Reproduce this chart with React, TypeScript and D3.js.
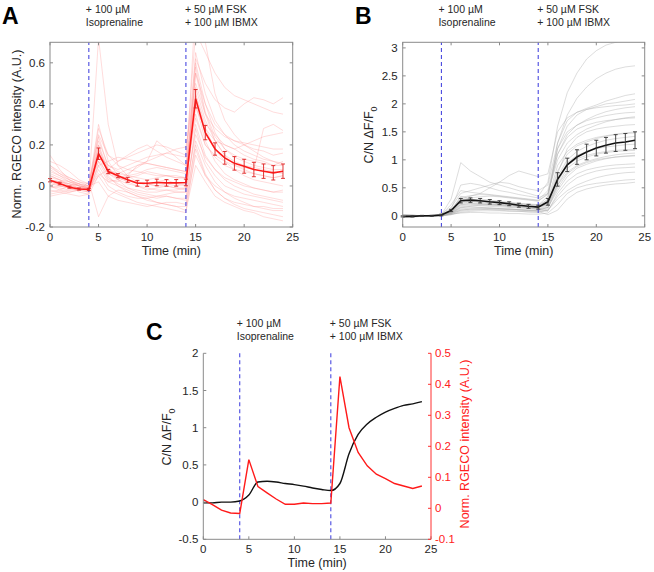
import React from "react";
import * as d3 from "d3";

const TIME = [0, 1, 2, 3, 4, 5, 6, 7, 8, 9, 10, 11, 12, 13, 14, 15, 16, 17, 18, 19, 20, 21, 22, 23, 24];
const RGECO_MEAN = [0.028, 0.012, -0.006, -0.015, -0.017, 0.157, 0.07, 0.05, 0.03, 0.013, 0.013, 0.017, 0.015, 0.015, 0.017, 0.425, 0.26, 0.18, 0.137, 0.11, 0.096, 0.08, 0.072, 0.064, 0.072];
const RGECO_SEM = [0.008, 0.006, 0.005, 0.005, 0.005, 0.028, 0.01, 0.01, 0.012, 0.014, 0.015, 0.016, 0.016, 0.016, 0.016, 0.045, 0.035, 0.03, 0.031, 0.033, 0.034, 0.035, 0.035, 0.035, 0.035];
const CN_MEAN = [-0.01, -0.01, 0.0, 0.0, 0.015, 0.095, 0.27, 0.28, 0.27, 0.25, 0.235, 0.215, 0.19, 0.17, 0.155, 0.25, 0.65, 0.91, 1.05, 1.14, 1.21, 1.26, 1.3, 1.32, 1.35];
const CN_SEM = [0.01, 0.01, 0.008, 0.008, 0.015, 0.02, 0.04, 0.04, 0.04, 0.04, 0.035, 0.035, 0.035, 0.035, 0.035, 0.06, 0.12, 0.12, 0.13, 0.14, 0.14, 0.14, 0.15, 0.15, 0.15];

const RGECO_TRACES = [
  [0.10, 0.06, 0.03, 0.01, 0.00, 0.25, 0.15, 0.12, 0.14, 0.16, 0.18, 0.20, 0.19, 0.17, 0.15, 0.62, 0.50, 0.42, 0.38, 0.36, 0.40, 0.43, 0.42, 0.40, 0.43],
  [0.02, 0.00, -0.01, -0.02, -0.03, 0.10, 0.02, 0.00, -0.02, -0.04, -0.05, -0.06, -0.05, -0.06, -0.07, 0.30, 0.15, 0.08, 0.03, 0.00, -0.02, -0.04, -0.05, -0.06, -0.07],
  [0.15, 0.08, 0.03, 0.00, -0.01, 0.72, 0.30, 0.10, 0.05, 0.02, 0.00, 0.02, 0.03, 0.01, 0.00, 0.55, 0.35, 0.22, 0.15, 0.10, 0.08, 0.06, 0.05, 0.04, 0.05],
  [-0.03, -0.02, 0.00, 0.01, -0.02, 0.05, 0.08, 0.12, 0.15, 0.18, 0.20, 0.17, 0.14, 0.12, 0.10, 0.45, 0.30, 0.25, 0.20, 0.18, 0.15, 0.13, 0.12, 0.10, 0.12],
  [0.05, 0.03, 0.00, -0.03, -0.04, 0.20, 0.05, 0.00, -0.03, -0.05, -0.07, -0.08, -0.09, -0.10, -0.10, 0.22, 0.10, 0.02, -0.03, -0.06, -0.08, -0.10, -0.11, -0.12, -0.12],
  [0.00, -0.01, -0.02, -0.02, -0.01, 0.15, 0.10, 0.08, 0.10, 0.12, 0.14, 0.15, 0.16, 0.15, 0.14, 0.75, 0.65, 0.55, 0.48, 0.44, 0.42, 0.40, 0.38, 0.36, 0.35],
  [0.08, 0.05, 0.02, 0.00, -0.01, 0.18, 0.06, 0.03, 0.01, 0.00, -0.02, -0.01, 0.00, -0.01, -0.02, 0.40, 0.22, 0.12, 0.06, 0.03, 0.01, -0.01, -0.02, -0.03, -0.02],
  [-0.05, -0.04, -0.03, -0.02, 0.02, -0.15, -0.05, -0.02, -0.03, -0.05, -0.06, -0.08, -0.09, -0.10, -0.12, 0.10, 0.02, -0.05, -0.08, -0.10, -0.12, -0.13, -0.15, -0.16, -0.17],
  [0.03, 0.02, 0.01, 0.00, -0.01, 0.28, 0.15, 0.10, 0.08, 0.07, 0.06, 0.05, 0.05, 0.04, 0.04, 0.55, 0.40, 0.30, 0.25, 0.22, 0.20, 0.18, 0.17, 0.15, 0.16],
  [0.12, 0.10, 0.07, 0.03, 0.01, 0.12, 0.03, 0.02, 0.05, 0.10, 0.12, 0.22, 0.18, 0.14, 0.10, 0.35, 0.20, 0.15, 0.12, 0.10, 0.09, 0.08, 0.28, 0.30, 0.27],
  [0.00, 0.02, 0.01, -0.01, -0.03, 0.08, 0.00, -0.03, -0.05, -0.06, -0.06, -0.05, -0.04, -0.03, -0.03, 0.28, 0.12, 0.05, 0.00, -0.02, -0.04, -0.05, -0.06, -0.07, -0.08],
  [0.06, 0.04, 0.02, 0.00, 0.00, 0.22, 0.10, 0.07, 0.05, 0.04, 0.03, 0.04, 0.05, 0.04, 0.04, 0.90, 0.70, 0.45, 0.32, 0.25, 0.20, 0.17, 0.14, 0.12, 0.10],
  [-0.02, -0.03, -0.04, -0.05, -0.04, 0.05, -0.02, -0.04, -0.06, -0.08, -0.09, -0.10, -0.11, -0.12, -0.13, 0.18, 0.05, -0.02, -0.06, -0.09, -0.11, -0.12, -0.13, -0.14, -0.15],
  [0.04, 0.03, 0.02, 0.01, -0.01, 0.16, 0.08, 0.06, 0.05, 0.06, 0.08, 0.09, 0.08, 0.07, 0.06, 0.48, 0.32, 0.22, 0.15, 0.12, 0.10, 0.09, 0.08, 0.07, 0.06],
  [0.10, 0.07, 0.04, 0.02, 0.00, 0.30, 0.12, 0.05, 0.02, 0.00, -0.01, -0.02, -0.02, -0.03, -0.03, 0.60, 0.40, 0.26, 0.18, 0.14, 0.12, 0.10, 0.09, 0.08, 0.08],
  [-0.01, 0.00, 0.00, -0.01, -0.02, 0.10, 0.12, 0.14, 0.13, 0.12, 0.11, 0.10, 0.09, 0.08, 0.07, 0.38, 0.28, 0.22, 0.20, 0.18, 0.20, 0.22, 0.24, 0.25, 0.26],
  [0.02, 0.01, 0.00, -0.01, -0.02, 0.14, 0.04, 0.01, -0.01, -0.02, -0.03, -0.03, -0.02, -0.02, -0.01, 0.25, 0.14, 0.08, 0.04, 0.02, 0.00, -0.01, -0.02, -0.03, -0.03],
  [0.07, 0.05, 0.03, 0.01, 0.00, 0.20, 0.08, 0.04, 0.02, 0.02, 0.01, 0.00, 0.01, 0.00, 0.01, 0.65, 0.45, 0.32, 0.25, 0.20, 0.17, 0.15, 0.13, 0.12, 0.11],
  [0.00, -0.02, -0.03, -0.02, -0.01, 0.06, 0.02, 0.03, 0.06, 0.09, 0.12, 0.14, 0.16, 0.18, 0.19, 0.50, 0.35, 0.28, 0.24, 0.22, 0.21, 0.20, 0.19, 0.18, 0.18],
  [0.09, 0.06, 0.04, 0.02, 0.01, 0.24, 0.09, 0.03, -0.01, -0.03, -0.04, -0.05, -0.05, -0.06, -0.06, 0.20, 0.06, -0.02, -0.06, -0.08, -0.09, -0.10, -0.10, -0.11, -0.11],
  [0.01, 0.00, -0.01, -0.02, -0.03, 0.12, 0.06, 0.04, 0.03, 0.02, 0.01, 0.00, 0.00, -0.01, -0.01, 0.44, 0.28, 0.18, 0.12, 0.08, 0.05, 0.03, 0.02, 0.01, 0.00],
  [0.05, 0.03, 0.01, 0.00, -0.02, 0.18, 0.08, 0.05, 0.04, 0.05, 0.07, 0.06, 0.05, 0.05, 0.04, 0.33, 0.20, 0.14, 0.10, 0.08, 0.07, 0.06, 0.05, 0.04, 0.05],
  [-0.04, -0.03, -0.02, -0.01, 0.00, 0.02, -0.05, -0.07, -0.08, -0.09, -0.10, -0.09, -0.08, -0.08, -0.09, 0.15, 0.05, 0.00, -0.03, -0.05, -0.06, -0.07, -0.08, -0.09, -0.10],
  [0.03, 0.02, 0.00, -0.01, -0.01, 0.16, 0.07, 0.06, 0.08, 0.10, 0.11, 0.10, 0.09, 0.08, 0.07, 0.58, 0.36, 0.24, 0.18, 0.15, 0.13, 0.12, 0.11, 0.10, 0.10],
];

const CN_TRACES = [
  [0.00, 0.00, 0.00, 0.01, 0.02, 0.20, 0.45, 0.42, 0.40, 0.38, 0.36, 0.34, 0.32, 0.30, 0.28, 0.45, 1.20, 1.60, 1.80, 1.90, 1.95, 2.00, 2.02, 2.05, 2.08],
  [-0.02, -0.01, 0.00, 0.00, 0.01, 0.05, 0.15, 0.16, 0.15, 0.14, 0.13, 0.12, 0.11, 0.10, 0.10, 0.15, 0.45, 0.70, 0.85, 0.92, 0.98, 1.02, 1.05, 1.07, 1.08],
  [0.01, 0.00, 0.00, 0.00, 0.02, 0.30, 0.95, 0.80, 0.70, 0.60, 0.55, 0.50, 0.45, 0.40, 0.35, 0.60, 1.60, 2.20, 2.55, 2.80, 2.95, 3.05, 3.10, 3.15, 3.20],
  [0.00, -0.01, 0.00, 0.00, 0.00, 0.08, 0.25, 0.28, 0.30, 0.28, 0.26, 0.24, 0.22, 0.20, 0.18, 0.25, 0.80, 1.10, 1.25, 1.32, 1.38, 1.42, 1.45, 1.47, 1.48],
  [-0.03, -0.02, -0.01, 0.00, 0.00, 0.04, 0.10, 0.12, 0.12, 0.11, 0.10, 0.09, 0.08, 0.07, 0.06, 0.10, 0.30, 0.45, 0.55, 0.62, 0.68, 0.72, 0.75, 0.77, 0.78],
  [0.02, 0.01, 0.00, 0.01, 0.03, 0.15, 0.40, 0.45, 0.50, 0.55, 0.60, 0.58, 0.52, 0.48, 0.45, 0.55, 1.30, 1.70, 1.85, 1.92, 1.98, 2.05, 2.10, 2.15, 2.18],
  [0.00, 0.00, 0.00, 0.00, 0.01, 0.06, 0.20, 0.22, 0.20, 0.19, 0.18, 0.16, 0.15, 0.14, 0.12, 0.18, 0.65, 0.95, 1.08, 1.15, 1.20, 1.23, 1.25, 1.27, 1.28],
  [-0.01, 0.00, 0.00, 0.00, 0.00, 0.03, 0.05, 0.06, 0.06, 0.05, 0.05, 0.04, 0.04, 0.03, 0.03, 0.05, 0.20, 0.40, 0.50, 0.55, 0.58, 0.60, 0.62, 0.64, 0.65],
  [0.01, 0.01, 0.00, 0.00, 0.02, 0.10, 0.30, 0.35, 0.40, 0.50, 0.60, 0.72, 0.80, 0.75, 0.70, 0.75, 1.50, 1.75, 1.85, 1.90, 1.93, 1.95, 1.97, 1.98, 2.00],
  [0.00, 0.00, 0.00, 0.00, 0.00, 0.05, 0.18, 0.20, 0.21, 0.20, 0.19, 0.18, 0.17, 0.15, 0.14, 0.20, 0.75, 1.20, 1.40, 1.50, 1.55, 1.58, 1.60, 1.62, 1.63],
  [-0.02, -0.02, -0.01, 0.00, 0.01, 0.07, 0.22, 0.25, 0.24, 0.22, 0.20, 0.18, 0.16, 0.14, 0.12, 0.15, 0.50, 0.75, 0.88, 0.95, 1.00, 1.03, 1.05, 1.06, 1.07],
  [0.00, 0.00, 0.00, 0.00, 0.01, 0.12, 0.55, 0.58, 0.55, 0.50, 0.45, 0.42, 0.38, 0.35, 0.32, 0.40, 1.10, 1.40, 1.55, 1.62, 1.67, 1.70, 1.72, 1.74, 1.75],
  [0.02, 0.01, 0.00, 0.00, 0.00, 0.02, 0.08, 0.10, 0.11, 0.12, 0.12, 0.11, 0.10, 0.09, 0.08, 0.02, 0.10, 0.30, 0.42, 0.48, 0.52, 0.55, 0.57, 0.58, 0.60],
  [0.00, 0.00, 0.00, 0.00, 0.02, 0.09, 0.28, 0.32, 0.34, 0.35, 0.34, 0.32, 0.30, 0.28, 0.26, 0.40, 1.00, 1.30, 1.45, 1.55, 1.62, 1.68, 1.72, 1.75, 1.77],
  [-0.01, -0.01, 0.00, 0.00, 0.01, 0.04, 0.12, 0.14, 0.15, 0.14, 0.13, 0.12, 0.11, 0.10, 0.09, 0.12, 0.55, 0.85, 0.98, 1.05, 1.10, 1.13, 1.15, 1.16, 1.17],
  [0.00, 0.00, 0.00, 0.00, 0.00, 0.10, 0.30, 0.28, 0.26, 0.24, 0.22, 0.20, 0.18, 0.17, 0.16, 0.30, 1.30, 1.80, 2.10, 2.30, 2.45, 2.55, 2.62, 2.66, 2.68],
  [0.01, 0.00, 0.00, 0.00, 0.01, 0.05, 0.16, 0.18, 0.18, 0.17, 0.16, 0.15, 0.14, 0.13, 0.12, 0.08, 0.40, 0.62, 0.75, 0.82, 0.86, 0.89, 0.91, 0.92, 0.93],
  [0.00, 0.00, 0.00, 0.01, 0.02, 0.08, 0.35, 0.30, 0.27, 0.25, 0.24, 0.23, 0.22, 0.21, 0.20, 0.28, 0.90, 1.15, 1.28, 1.35, 1.40, 1.43, 1.46, 1.48, 1.50],
  [-0.02, -0.01, 0.00, 0.00, 0.00, 0.03, 0.10, 0.12, 0.13, 0.13, 0.12, 0.12, 0.11, 0.10, 0.10, 0.15, 0.60, 0.90, 1.02, 1.08, 1.12, 1.15, 1.17, 1.18, 1.19],
  [0.00, 0.00, 0.00, 0.00, 0.01, 0.06, 0.24, 0.26, 0.25, 0.24, 0.23, 0.22, 0.21, 0.20, 0.19, 0.35, 1.20, 1.50, 1.62, 1.70, 1.75, 1.79, 1.82, 1.84, 1.85],
  [0.01, 0.01, 0.00, 0.00, 0.00, 0.04, 0.14, 0.17, 0.19, 0.20, 0.20, 0.19, 0.18, 0.17, 0.16, 0.20, 0.55, 0.78, 0.90, 0.97, 1.02, 1.06, 1.09, 1.11, 1.12],
  [0.00, 0.00, 0.00, 0.00, 0.01, 0.07, 0.20, 0.22, 0.22, 0.21, 0.20, 0.19, 0.18, 0.17, 0.16, 0.22, 0.70, 1.00, 1.15, 1.24, 1.30, 1.35, 1.38, 1.40, 1.42],
  [-0.01, 0.00, 0.00, 0.00, 0.00, 0.02, 0.06, 0.08, 0.09, 0.09, 0.09, 0.08, 0.08, 0.07, 0.07, 0.10, 0.35, 0.55, 0.68, 0.75, 0.80, 0.83, 0.85, 0.86, 0.87],
  [0.00, 0.00, 0.00, 0.00, 0.02, 0.11, 0.33, 0.36, 0.38, 0.37, 0.35, 0.33, 0.31, 0.29, 0.27, 0.38, 1.10, 1.45, 1.62, 1.72, 1.80, 1.86, 1.90, 1.93, 1.95],
];

const X_TICKS = [0, 5, 10, 15, 20, 25];
const A_Y_TICKS = [-0.2, 0, 0.2, 0.4, 0.6];
const B_Y_TICKS = [0, 0.5, 1, 1.5, 2, 2.5, 3];
const C_LEFT_TICKS = [-0.5, 0, 0.5, 1, 1.5, 2];
const C_RIGHT_TICKS = [-0.1, 0, 0.1, 0.2, 0.3, 0.4, 0.5];
const DRUG_TIMES = [4, 14];
const ANNOT_ISO = ["+ 100 µM", "Isoprenaline"];
const ANNOT_FSK = ["+ 50 µM FSK", "+ 100 µM IBMX"];

const FONT = "'Liberation Sans', Arial, sans-serif";
const TXT = "#262626";
const AX = "#8a8a8a";
const DASH = "#4a4ae0";
const TL = 3;

type Sc = d3.ScaleLinear<number, number>;

function Frame({ xs, ys, yTicks, box, id }: { xs: Sc; ys: Sc; yTicks: number[]; box: boolean; id: string }) {
  const [x0, x1] = xs.range();
  const [y0, y1] = ys.range();
  return (
    <g>
      {box && <rect x={x0} y={y1} width={x1 - x0} height={y0 - y1} fill="none" stroke={AX} strokeWidth={1} />}
      {X_TICKS.map((t) => (
        <g key={"xt" + id + t}>
          <line x1={xs(t)} x2={xs(t)} y1={y0} y2={y0 - TL} stroke={AX} />
          {box && <line x1={xs(t)} x2={xs(t)} y1={y1} y2={y1 + TL} stroke={AX} />}
          <text x={xs(t)} y={y0 + 14} textAnchor="middle" fontSize={11.5} fill={TXT}>{String(t)}</text>
        </g>
      ))}
      {yTicks.map((t) => (
        <g key={"yt" + id + t}>
          <line x1={x0} x2={x0 + TL} y1={ys(t)} y2={ys(t)} stroke={AX} />
          {box && <line x1={x1} x2={x1 - TL} y1={ys(t)} y2={ys(t)} stroke={AX} />}
          <text x={x0 - 5} y={ys(t) + 4} textAnchor="end" fontSize={11.5} fill={TXT}>{String(t)}</text>
        </g>
      ))}
      <text x={(x0 + x1) / 2} y={y0 + 28} textAnchor="middle" fontSize={12.5} fill={TXT}>Time (min)</text>
    </g>
  );
}

function Dashes({ xs, ys }: { xs: Sc; ys: Sc }) {
  const [y0, y1] = ys.range();
  return (
    <g>
      {DRUG_TIMES.map((t) => (
        <line key={"d" + t} x1={xs(t)} x2={xs(t)} y1={y0} y2={y1} stroke={DASH} strokeWidth={1.1} strokeDasharray="4,3" />
      ))}
    </g>
  );
}

function Annot({ xs, top, gap }: { xs: Sc; top: number; gap: number }) {
  return (
    <g fontSize={10.5} fill={TXT}>
      <text x={xs(DRUG_TIMES[0]) - 3} y={top}>{ANNOT_ISO[0]}</text>
      <text x={xs(DRUG_TIMES[0]) - 3} y={top + gap}>{ANNOT_ISO[1]}</text>
      <text x={xs(DRUG_TIMES[1]) - 1} y={top}>{ANNOT_FSK[0]}</text>
      <text x={xs(DRUG_TIMES[1]) - 1} y={top + gap}>{ANNOT_FSK[1]}</text>
    </g>
  );
}

function Traces({ xs, ys, traces, color, id }: { xs: Sc; ys: Sc; traces: number[][]; color: string; id: string }) {
  const line = d3.line<number>().x((_, i) => xs(TIME[i])).y((d) => ys(d));
  return (
    <g clipPath={`url(#${id})`}>
      {traces.map((tr, k) => (
        <path key={id + k} d={line(tr) || ""} fill="none" stroke={color} strokeWidth={0.8} />
      ))}
    </g>
  );
}

function MeanErr({ xs, ys, mean, sem, color, barColor }: { xs: Sc; ys: Sc; mean: number[]; sem: number[]; color: string; barColor: string }) {
  const line = d3.line<number>().x((_, i) => xs(TIME[i])).y((d) => ys(d));
  return (
    <g>
      <path d={line(mean) || ""} fill="none" stroke={color} strokeWidth={1.6} />
      {mean.map((m, i) => {
        const x = xs(TIME[i]);
        const lo = ys(m - sem[i]);
        const hi = ys(m + sem[i]);
        return (
          <g key={"e" + i} stroke={barColor} strokeWidth={0.9}>
            <line x1={x} x2={x} y1={lo} y2={hi} />
            <line x1={x - 2} x2={x + 2} y1={lo} y2={lo} />
            <line x1={x - 2} x2={x + 2} y1={hi} y2={hi} />
          </g>
        );
      })}
    </g>
  );
}

export default function App() {
  const xA = d3.scaleLinear().domain([0, 25]).range([50, 292.7]);
  const yA = d3.scaleLinear().domain([-0.2, 0.7]).range([227, 42.3]);
  const xB = d3.scaleLinear().domain([0, 25]).range([402.7, 644.7]);
  const yB = d3.scaleLinear().domain([-0.2, 3.1]).range([227, 42.3]);
  const xC = d3.scaleLinear().domain([0, 25]).range([203.3, 431]);
  const yCL = d3.scaleLinear().domain([-0.5, 2]).range([539.3, 353.3]);
  const yCR = d3.scaleLinear().domain([-0.1, 0.5]).range([539.3, 353.3]);

  const lineCL = d3.line<number>().x((_, i) => xC(TIME[i])).y((d) => yCL(d)).curve(d3.curveMonotoneX);
  const lineCR = d3.line<number>().x((_, i) => xC(TIME[i])).y((d) => yCR(d));

  return (
    <svg width={654} height={572} style={{ position: "absolute", left: 0, top: 0, background: "#fff" }} fontFamily={FONT}>
      <defs>
        <clipPath id="clipA"><rect x={50} y={42.3} width={242.7} height={184.7} /></clipPath>
        <clipPath id="clipB"><rect x={402.7} y={42.3} width={242} height={184.7} /></clipPath>
      </defs>
      <rect x={0} y={0} width={654} height={572} fill="#fff" />

      {/* Panel A */}
      <text x={2} y={24} fontSize={23} fontWeight="bold" fill="#000">A</text>
      <Annot xs={xA} top={13} gap={13} />
      <Traces xs={xA} ys={yA} traces={RGECO_TRACES} color="rgba(255,150,150,0.42)" id="clipA" />
      <Dashes xs={xA} ys={yA} />
      <MeanErr xs={xA} ys={yA} mean={RGECO_MEAN} sem={RGECO_SEM} color="#ff1a1a" barColor="#e02020" />
      <Frame xs={xA} ys={yA} yTicks={A_Y_TICKS} box={true} id="A" />
      <text transform={`translate(21,134) rotate(-90)`} textAnchor="middle" fontSize={12.5} fill={TXT}>Norm. RGECO intensity (A.U.)</text>

      {/* Panel B */}
      <text x={355} y={24} fontSize={23} fontWeight="bold" fill="#000">B</text>
      <Annot xs={xB} top={13} gap={13} />
      <Traces xs={xB} ys={yB} traces={CN_TRACES} color="rgba(170,170,170,0.5)" id="clipB" />
      <Dashes xs={xB} ys={yB} />
      <MeanErr xs={xB} ys={yB} mean={CN_MEAN} sem={CN_SEM} color="#111" barColor="#333" />
      <Frame xs={xB} ys={yB} yTicks={B_Y_TICKS} box={true} id="B" />
      <text transform={`translate(373,135) rotate(-90)`} textAnchor="middle" fontSize={12.5} fill={TXT}>
        C/N ΔF/F<tspan fontSize={9} dy={4}>0</tspan>
      </text>

      {/* Panel C */}
      <text x={146} y={340} fontSize={23} fontWeight="bold" fill="#000">C</text>
      <Annot xs={xC} top={327} gap={13} />
      <Dashes xs={xC} ys={yCL} />
      <path d={lineCL(CN_MEAN) || ""} fill="none" stroke="#111" strokeWidth={1.4} />
      <path d={lineCR(RGECO_MEAN) || ""} fill="none" stroke="#ff1a1a" strokeWidth={1.4} />
      <Frame xs={xC} ys={yCL} yTicks={C_LEFT_TICKS} box={false} id="C" />
      <line x1={203.3} x2={203.3} y1={353.3} y2={539.3} stroke={AX} />
      <line x1={203.3} x2={431} y1={539.3} y2={539.3} stroke={AX} />
      <line x1={431} x2={431} y1={353.3} y2={539.3} stroke="#ff3030" />
      {C_RIGHT_TICKS.map((t) => (
        <g key={"cr" + t}>
          <line x1={431} x2={431 - TL} y1={yCR(t)} y2={yCR(t)} stroke="#ff3030" />
          <text x={435} y={yCR(t) + 4} fontSize={11.5} fill="#ff2020">{String(t)}</text>
        </g>
      ))}
      <text transform={`translate(171,437) rotate(-90)`} textAnchor="middle" fontSize={12.5} fill={TXT}>
        C/N ΔF/F<tspan fontSize={9} dy={4}>0</tspan>
      </text>
      <text transform={`translate(469,444) rotate(-90)`} textAnchor="middle" fontSize={12.5} fill="#ff2020">Norm. RGECO intensity (A.U.)</text>
    </svg>
  );
}
